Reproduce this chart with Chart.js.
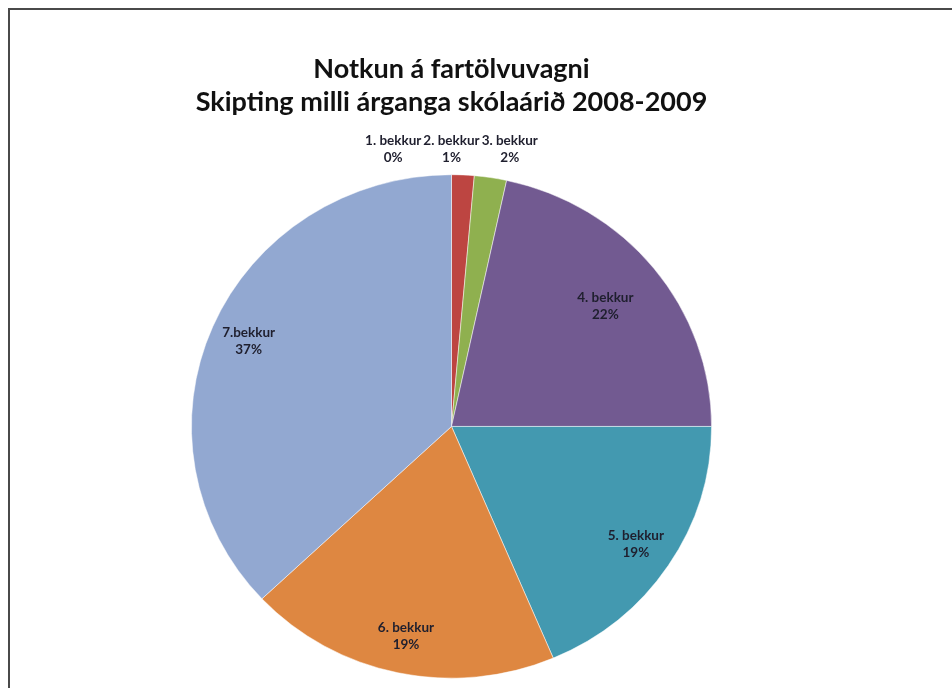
<!DOCTYPE html>
<html>
<head>
<meta charset="utf-8">
<script src="https://cdn.jsdelivr.net/npm/chart.js@4"></script>
<style>
  body{margin:0;background:#fff;}
  #wrap{position:relative;width:952px;height:688px;}
  #frame{position:absolute;left:8px;top:8px;width:944px;height:680px;
    border-top:2px solid #4a4a4a;border-left:2px solid #4a4a4a;box-sizing:border-box;pointer-events:none;}
</style>
</head>
<body>
<div id="wrap">
  <canvas id="pie" width="952" height="688"></canvas>
  <div id="frame"></div>
</div>
<script>
// gögn
const titleLines = ["Notkun á fartölvuvagni", "Skipting milli árganga skólaárið 2008-2009"];
const categories = ["1. bekkur", "2. bekkur", "3. bekkur", "4. bekkur", "5. bekkur", "6. bekkur", "7.bekkur"];
const values = [0, 1.4, 2.0, 21.6, 18.6, 19.4, 37.0];
const colors = ["#4F81BD", "#BD4541", "#8FB04F", "#725A91", "#4399B0", "#DE8741", "#92A8D1"];

const FONT = "Lato, 'Open Sans', sans-serif";
const SQUASH = 0.968; // kakan er örlítið flatari en hringur í upprunalegu myndinni

// fletja kökuna aðeins lóðrétt
const squash = {
  id: 'squash',
  beforeDatasetsDraw(chart){
    const arc = chart.getDatasetMeta(0).data[0];
    const ctx = chart.ctx;
    ctx.save();
    ctx.translate(arc.x, arc.y);
    ctx.scale(1, SQUASH);
    ctx.translate(-arc.x, -arc.y);
  },
  afterDatasetsDraw(chart){
    chart.ctx.restore();
  }
};

// label plugin - inni í sneið eða fyrir ofan ef lítil
const sliceLabels = {
  id: 'sliceLabels',
  afterDatasetsDraw(chart){
    const ctx = chart.ctx;
    const meta = chart.getDatasetMeta(0);
    const data = chart.data.datasets[0].data;
    const total = data.reduce((a,b)=>a+b,0);
    ctx.save();
    ctx.font = "bold 13.5px " + FONT;
    ctx.fillStyle = "#1f1f2e";
    ctx.textAlign = "center";
    ctx.textBaseline = "middle";

    const outside = [];
    meta.data.forEach((arc,i)=>{
      const p = arc.getProps(['x','y','startAngle','endAngle','outerRadius'], true);
      const mid = (p.startAngle + p.endAngle)/2;
      const frac = data[i]/total;
      const pct = Math.round(frac*100) + "%";
      if(frac < 0.05){
        outside.push({i, pct, y: p.y - p.outerRadius*SQUASH - 26, cx: p.x});
      } else {
        const r = p.outerRadius * (frac > 0.2 && frac < 0.3 ? 0.76 : 0.85);
        const x = p.x + Math.cos(mid)*r;
        const y = p.y + Math.sin(mid)*r*SQUASH;
        ctx.fillText(chart.data.labels[i], x, y - 8.5);
        ctx.fillText(pct, x, y + 8.5);
      }
    });

    // dreifa litlu merkjunum svo þau skarist ekki
    if(outside.length){
      const w = Math.max(...outside.map(o=>ctx.measureText(chart.data.labels[o.i]).width)) + 2;
      const n = outside.length;
      const start = outside[0].cx - (n-1)*w/2;
      outside.forEach((o,k)=>{
        const x = start + k*w;
        ctx.fillText(chart.data.labels[o.i], x, o.y - 8.5);
        ctx.fillText(o.pct, x, o.y + 8.5);
      });
    }
    ctx.restore();
  }
};

new Chart(document.getElementById("pie"), {
  type: 'pie',
  data: {
    labels: categories,
    datasets: [{
      data: values,
      backgroundColor: colors,
      borderColor: 'rgba(255,255,255,0.5)',
      borderWidth: 1
    }]
  },
  options: {
    responsive: false,
    animation: false,
    layout: { padding: { top: 0, left: 0, right: 49, bottom: 1 } },
    plugins: {
      legend: { display: false },
      tooltip: { enabled: false },
      title: {
        display: true,
        text: titleLines,
        color: '#111',
        font: { family: FONT, size: 27, weight: 'bold', lineHeight: 1.22 },
        padding: { top: 53, bottom: 47 }
      }
    }
  },
  plugins: [squash, sliceLabels]
});
</script>
</body>
</html>
